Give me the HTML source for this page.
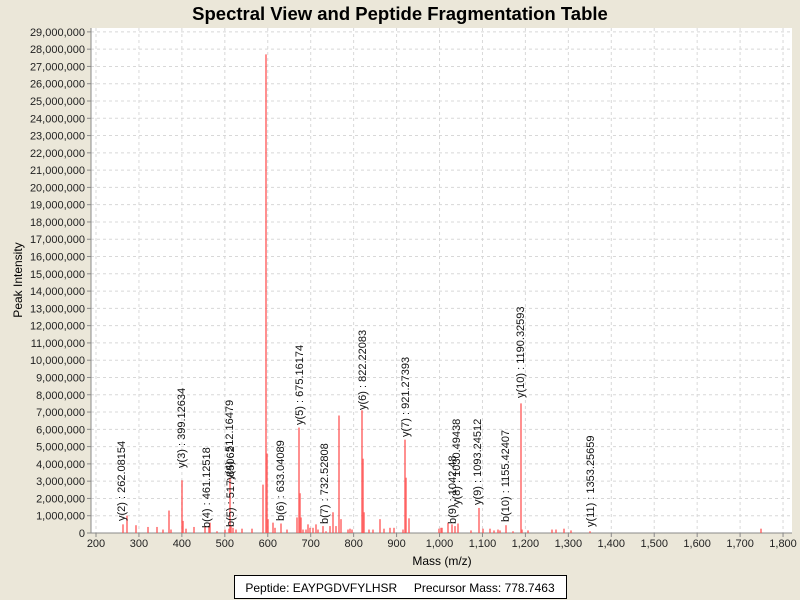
<!DOCTYPE html>
<html><head><meta charset="utf-8"><style>
body{margin:0;background:#ebe7d9;}
svg{display:block;font-family:"Liberation Sans",sans-serif;}
</style></head><body>
<svg width="800" height="600" xmlns="http://www.w3.org/2000/svg">
<rect width="800" height="600" fill="#ebe7d9"/>
<text x="400" y="20" text-anchor="middle" font-size="18.5" font-weight="bold">Spectral View and Peptide Fragmentation Table</text>
<rect x="91" y="28" width="701" height="505" fill="#fff"/>
<g id="grid" stroke="#d8d8d8" stroke-dasharray="3,3" stroke-width="1"></g>
<g id="ylab" font-size="11" text-anchor="end" fill="#222"></g>
<g id="xlab" font-size="11" text-anchor="middle" fill="#222"></g>
<line x1="91" y1="28" x2="91" y2="533" stroke="#888"/>
<line x1="91" y1="533" x2="792" y2="533" stroke="#888"/>
<g id="peaks" stroke="#ff5050" stroke-opacity="0.8" stroke-width="1.6"></g>
<g font-size="11" fill="#111" id="labs"></g>
<text x="22" y="280" font-size="12" text-anchor="middle" transform="rotate(-90 22 280)">Peak Intensity</text>
<text x="442" y="565" font-size="12" text-anchor="middle">Mass (m/z)</text>
<rect x="234.5" y="575.5" width="332" height="23" fill="#fff" stroke="#000"/>
<text x="400" y="592" font-size="12" text-anchor="middle" xml:space="preserve">Peptide: EAYPGDVFYLHSR     Precursor Mass: 778.7463</text>
</svg>
<script>
var ns="http://www.w3.org/2000/svg";
function el(p,t,a,txt){var e=document.createElementNS(ns,t);for(var k in a)e.setAttribute(k,a[k]);if(txt)e.textContent=txt;document.getElementById(p).appendChild(e);}
function Y(m){return 533-m*17.28;}
function X(v){return 96+(v-200)*0.4294;}
for(var i=0;i<=29;i++){var y=Y(i);if(i>0)el("grid","line",{x1:91,x2:792,y1:y,y2:y});
el("grid","line",{x1:87,x2:91,y1:y,y2:y,stroke:"#888","stroke-dasharray":"none"});
el("ylab","text",{x:85,y:y+4},(i==0?"0":i+",000,000"));}
for(var v=200;v<=1800;v+=100){var x=X(v);el("grid","line",{x1:x,x2:x,y1:28,y2:533});
el("grid","line",{x1:x,x2:x,y1:533,y2:537,stroke:"#888","stroke-dasharray":"none"});
el("xlab","text",{x:x,y:547},v>=1000?(Math.floor(v/1000)+","+String(v%1000).padStart(3,"0")):String(v));}
var P=[[123,.5],[127,1],[136,.45],[148,.35],[157,.35],[163,.2],[169,1.3],[171,.2],[182,3.05],[183,.7],[186,.25],[194,.35],[205,.4],[209,.4],[210,.6],[217,.1],[225,.2],[229,.25],[230,3.2],[231,.4],[233,.3],[236,.2],[242,.25],[252,.25],[263,2.8],[266,27.7],[267,4.6],[268,.8],[273,.6],[275,.3],[281,.55],[287,.2],[297,.9],[299,6.1],[300,2.3],[301,.9],[303,.2],[306,.2],[308,.5],[310,.3],[313,.3],[316,.5],[318,.2],[323,.4],[326,.1],[330,.4],[333,1.2],[336,.4],[339,6.8],[341,.8],[348,.2],[350,.25],[352,.2],[362,7.1],[363,4.3],[364,1.2],[369,.2],[373,.2],[380,.8],[384,.25],[390,.3],[394,.3],[403,.2],[405,5.4],[406,3.2],[409,.85],[439,.25],[441,.3],[442,.3],[448,.6],[452,.5],[455,.4],[458,.55],[471,.15],[479,1.45],[483,.25],[490,.25],[494,.15],[498,.2],[500,.15],[506,.45],[513,.1],[521,7.5],[522,.2],[528,.15],[552,.2],[556,.2],[564,.25],[571,.15],[590,.1],[761,.25]];
P.forEach(function(p){el("peaks","line",{x1:p[0],x2:p[0],y1:533,y2:Y(p[1])});});
var L=[["y(2) : 262.08154",121,521],["y(3) : 399.12634",181,468],["b(4) : 461.12518",206,528],["b(5) : 517.85062",230,527],["y(4) : 512.16479",229,480],["b(6) : 633.04089",280,521],["y(5) : 675.16174",299,425],["b(7) : 732.52808",324,524],["y(6) : 822.22083",362,410],["y(7) : 921.27393",405,437],["y(8) : 1030.49438",456,505],["b(9) : 1042.48",452,524],["y(9) : 1093.24512",477,505],["b(10) : 1155.42407",505,522],["y(10) : 1190.32593",520,398],["y(11) : 1353.25659",590,527]];
L.forEach(function(l){var x=l[1]+4;el("labs","text",{x:x,y:l[2],transform:"rotate(-90 "+x+" "+l[2]+")"},l[0]);});
</script>
</body></html>
